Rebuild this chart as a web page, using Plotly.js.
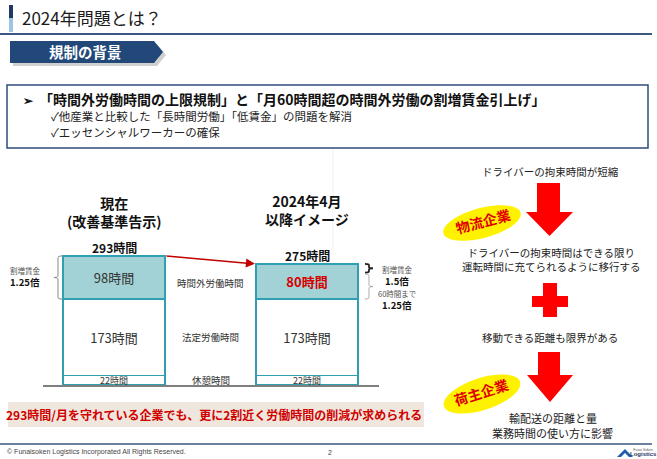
<!DOCTYPE html>
<html><head><meta charset="utf-8">
<script src="https://cdn.plot.ly/plotly-3.0.1.min.js"></script>
<style>html,body{margin:0;padding:0;background:#fff;}#chart{width:657px;height:459px;}</style>
</head><body><div id="chart"></div>
<script>
// ---- data ----
const categories = ['現在<br>(改善基準告示)', '2024年4月<br>以降イメージ'];
const segmentNames = ['休憩時間', '法定労働時間', '時間外労働時間'];
const breakHours = [22, 22];
const legalHours = [173, 173];
const overtimeHours = [98, 80];
const totalHours = [293, 275];
const thresholdHours = 60;
const premiumLeft = ['割増賃金', '1.25倍'];
const premiumRight = ['割増賃金', '1.5倍', '60時間まで', '1.25倍'];
const flowTexts = ['ドライバーの拘束時間が短縮',
  'ドライバーの拘束時間はできる限り<br>運転時間に充てられるように移行する',
  '移動できる距離も限界がある',
  '輸配送の距離と量', '業務時間の使い方に影響'];
const flowTags = ['物流企業', '荷主企業'];

// ---- helpers (page layout in pixels -> paper) ----
const W = 657, H = 459;
const X = p => p / W;
const Y = p => 1 - p / H;
const JP = '"Noto Sans CJK JP", "Noto Sans", sans-serif';
const TEAL = '#2f9fb2';
const NAVY = '#22487a';
const RED = '#ff0000';

const annotations = [];
function txt(px, py, text, size, color, extra) {
  annotations.push(Object.assign({
    xref: 'paper', yref: 'paper', x: X(px), y: Y(py), text: text,
    showarrow: false, xanchor: 'center', yanchor: 'middle',
    font: {family: JP, size: size, color: color}
  }, extra || {}));
}
const shapes = [];
function poly(pts, fill, line) {
  const d = pts.map((p, i) => (i ? 'L' : 'M') + X(p[0]).toFixed(5) + ',' + Y(p[1]).toFixed(5)).join(' ') + ' Z';
  shapes.push({type: 'path', xref: 'paper', yref: 'paper', path: d, fillcolor: fill,
    line: line || {width: 0}, layer: 'above'});
}
function ellipse(cx, cy, rx, ry, deg, fill) {
  const a = deg * Math.PI / 180, pts = [];
  for (let k = 0; k < 48; k++) {
    const t = 2 * Math.PI * k / 48;
    const ex = rx * Math.cos(t), ey = ry * Math.sin(t);
    pts.push([cx + ex * Math.cos(a) - ey * Math.sin(a), cy + ex * Math.sin(a) + ey * Math.cos(a)]);
  }
  poly(pts, fill);
}
function downArrow(x1, x2, yTop, hx1, hx2, yHead, tipY) {
  const tx = (hx1 + hx2) / 2;
  poly([[x1, yTop], [x2, yTop], [x2, yHead], [hx2, yHead], [tx, tipY], [hx1, yHead], [x1, yHead]], RED);
}
function rectP(x0, y0, x1, y1, fill, line) {
  shapes.push({type: 'rect', xref: 'paper', yref: 'paper', x0: X(x0), x1: X(x1), y0: Y(y1), y1: Y(y0),
    fillcolor: fill, line: line || {width: 0}, layer: 'above'});
}
function lineP(x0, y0, x1, y1, color, width) {
  shapes.push({type: 'line', xref: 'paper', yref: 'paper', x0: X(x0), x1: X(x1), y0: Y(y0), y1: Y(y1),
    line: {color: color, width: width}, layer: 'above'});
}
// vertical brace: x in pixels (paper), y in data units
function brace(xs, yLo, yHi, dir, color, width) {
  const d = dir * 4, w = -dir * 4, r = 3, ym = (yLo + yHi) / 2;
  const f = v => X(v).toFixed(5);
  const path = 'M' + f(xs + w) + ',' + yHi +
    ' Q' + f(xs) + ',' + yHi + ' ' + f(xs) + ',' + (yHi - r) +
    ' L' + f(xs) + ',' + (ym + r) +
    ' Q' + f(xs) + ',' + ym + ' ' + f(xs + d) + ',' + ym +
    ' Q' + f(xs) + ',' + ym + ' ' + f(xs) + ',' + (ym - r) +
    ' L' + f(xs) + ',' + (yLo + r) +
    ' Q' + f(xs) + ',' + yLo + ' ' + f(xs + w) + ',' + yLo;
  shapes.push({type: 'path', xref: 'paper', yref: 'y', path: path, line: {color: color, width: width}, layer: 'above'});
}

// ---- traces ----
const common = {type: 'bar', x: categories, width: [0.528, 0.528], hoverinfo: 'skip',
  textposition: 'inside', insidetextanchor: 'middle', constraintext: 'none', textangle: 0};
const traces = [
  Object.assign({}, common, {name: segmentNames[0], y: breakHours,
    marker: {color: '#ffffff', line: {color: TEAL, width: 1.5}},
    text: breakHours.map(v => v + '時間'), textfont: {family: JP, size: 9, color: '#333333'}}),
  Object.assign({}, common, {name: segmentNames[1], y: legalHours,
    marker: {color: '#ffffff', line: {color: TEAL, width: 1.5}},
    text: legalHours.map(v => v + '時間'), textfont: {family: JP, size: 13, color: '#333333'}}),
  Object.assign({}, common, {name: segmentNames[2], y: overtimeHours,
    marker: {color: '#a3d2d6', line: {color: TEAL, width: 1.5}},
    text: overtimeHours.map((v, i) => i === 1 ? '<b>' + v + '時間</b>' : v + '時間'),
    textfont: {family: JP, size: 13, color: ['#333333', '#d40000']}})
];

// ---- chart annotations tied to data ----
categories.forEach((c, i) => {
  annotations.push({xref: 'x', yref: 'y', x: i, y: totalHours[i], text: '<b>' + totalHours[i] + '時間</b>',
    showarrow: false, yanchor: 'bottom', yshift: -2, font: {family: JP, size: 12, color: '#111'}});
  annotations.push({xref: 'x', yref: 'paper', x: i, y: Y(i === 0 ? 212 : 210), text: '<b>' + c + '</b>',
    showarrow: false, yanchor: 'middle', font: {family: JP, size: 14, color: '#111'}});
});
const mids = [breakHours[0] / 2, breakHours[0] + legalHours[0] / 2, breakHours[0] + legalHours[0] + overtimeHours[0] / 2 - 12];
[2, 1, 0].forEach(k => {
  annotations.push({xref: 'x', yref: 'y', x: 0.5, y: mids[k], text: segmentNames[k], showarrow: false,
    font: {family: JP, size: 9.5, color: '#333'}});
});
// red arrow from left top to right top
annotations.push({xref: 'x', yref: 'y', axref: 'x', ayref: 'y', x: 1 - 0.27, y: totalHours[1],
  ax: 0.264, ay: totalHours[0], text: '', showarrow: true, arrowhead: 2, arrowsize: 1.2,
  arrowwidth: 1.5, arrowcolor: '#c00000', standoff: 0, startstandoff: 0});
// braces
const base = breakHours[0] + legalHours[0];
brace(58, base, totalHours[0], -1, '#888888', 1);
brace(369, base + thresholdHours, totalHours[1], 1, '#222222', 1.8);
brace(369, base, base + thresholdHours - 3, 1, '#999999', 0.8);
const small = {borderpad: 0};
txt(25, 270, premiumLeft[0], 7.5, '#555', small);
txt(25, 282, '<b>' + premiumLeft[1] + '</b>', 9.5, '#111', small);
txt(397, 269, premiumRight[0], 7.5, '#555', small);
txt(397, 281, '<b>' + premiumRight[1] + '</b>', 9.5, '#111', small);
txt(397, 293, premiumRight[2], 7.5, '#555', small);
txt(397, 305, '<b>' + premiumRight[3] + '</b>', 9.5, '#111', small);

// ---- page decorations ----
rectP(9, 5, 13, 18, '#1f3864');
rectP(9, 18, 13, 32, '#9dc3e6');
lineP(0, 34, 652, 34, '#3b5680', 2);
txt(20, 18, '2024年問題とは？', 17, '#1a1a1a', {xanchor: 'left'});
poly([[13, 44], [157, 44], [166, 55], [157, 66], [13, 66]], '#d0d0d0');
poly([[10, 41], [154, 41], [163, 52], [154, 63], [10, 63]], NAVY);
txt(85, 52, '<b>規制の背景</b>', 14.5, '#ffffff');
rectP(7, 85, 648, 148, 'rgba(0,0,0,0)', {color: '#2f4b7c', width: 1.5});
txt(28, 99, '<b>➢</b>', 12, '#111');
txt(37, 99, '<b>「時間外労働時間の上限規制」と「月60時間超の時間外労働の割増賃金引上げ」</b>', 14, '#111', {xanchor: 'left'});
txt(49, 116, '✓他産業と比較した「長時間労働」「低賃金」の問題を解消', 11.5, '#222', {xanchor: 'left'});
txt(49, 132, '✓エッセンシャルワーカーの確保', 11.5, '#222', {xanchor: 'left'});
lineP(333, 150, 333, 250, '#f0f0f0', 1);

// bottom banner
rectP(8, 402, 424, 427, '#efe7dd');
txt(214, 414, '<b>293時間/月を守れている企業でも、更に2割近く労働時間の削減が求められる</b>', 12, '#d00000');

// right flow
txt(550, 172, flowTexts[0], 10.5, '#222');
downArrow(537, 560, 183, 526, 573, 212, 236);
ellipse(482, 223, 40, 15, -15, '#fff200');
txt(483, 221, '<b>' + flowTags[0] + '</b>', 14, '#e00000', {textangle: -15, borderpad: 0});
txt(551, 259, flowTexts[1], 10.5, '#222');
rectP(543, 283, 557, 317, RED);
rectP(532, 296, 568, 307, RED);
txt(550, 337, flowTexts[2], 10.5, '#222');
downArrow(538, 560, 352, 527, 573, 375, 402);
ellipse(482, 394, 40, 16, -18, '#fff200');
txt(481, 392, '<b>' + flowTags[1] + '</b>', 14, '#e00000', {textangle: -18, borderpad: 0});
txt(553, 418, flowTexts[3], 11, '#222', small);
txt(552, 433, flowTexts[4], 11, '#222', small);

// footer
lineP(0, 444, 652, 444, '#3b5680', 1.5);
txt(5, 452, '© Funaisoken Logistics Incorporated All Rights Reserved.', 7, '#444',
  {xanchor: 'left', font: {family: '"Liberation Sans", Arial, sans-serif', size: 7, color: '#444'}});
txt(330, 452, '2', 7, '#444', {font: {family: '"Liberation Sans", Arial, sans-serif', size: 7, color: '#444'}});
poly([[617, 457], [625, 449], [633, 457], [629, 457], [625, 453], [621, 457]], '#1f5fae');
txt(643, 452, 'Funai Soken<br><span style="font-size:6px;color:#1f3864"><b>Logistics</b></span>', 3.5, '#555',
  {font: {family: '"Liberation Sans", sans-serif', size: 3.5, color: '#555'}});

const layout = {
  width: W, height: H, margin: {l: 0, r: 0, t: 0, b: 0, pad: 0},
  paper_bgcolor: '#ffffff', plot_bgcolor: 'rgba(0,0,0,0)',
  barmode: 'stack', showlegend: false,
  xaxis: {type: 'category', domain: [X(43), X(379)], range: [-0.368, 1.373],
    showticklabels: false, ticks: '', showgrid: false, zeroline: false,
    showline: true, linecolor: '#7f7f7f', linewidth: 1.5, fixedrange: true},
  yaxis: {domain: [Y(385), Y(200)], range: [0, 420], visible: false, fixedrange: true},
  annotations: annotations, shapes: shapes
};
Plotly.newPlot('chart', traces, layout, {staticPlot: true, displayModeBar: false});
</script></body></html>
